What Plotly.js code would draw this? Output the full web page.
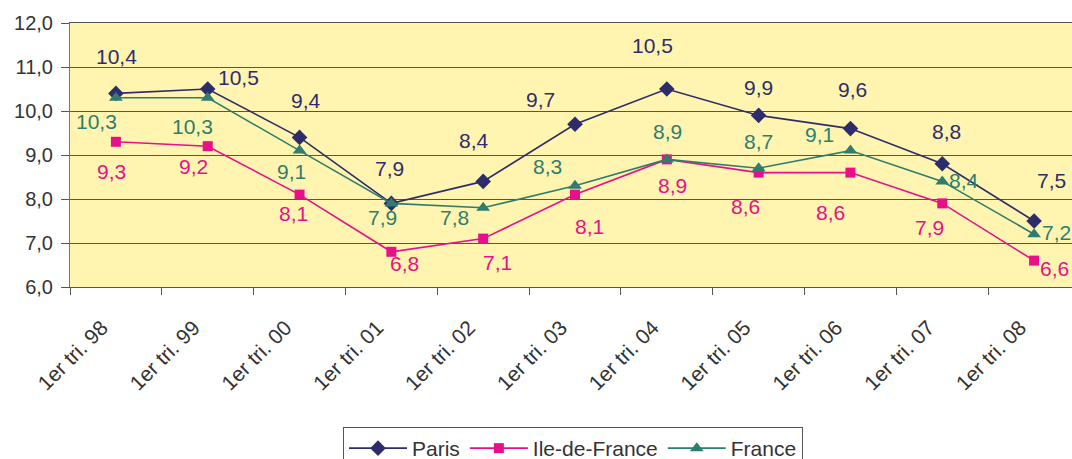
<!DOCTYPE html>
<html><head><meta charset="utf-8">
<script src="https://cdn.plot.ly/plotly-3.0.1.min.js"></script>
<style>html,body{margin:0;padding:0;overflow:hidden;background:#fff;width:1072px;height:459px}#chart{width:1090px;height:459px}</style>
</head><body><div id="chart"></div>
<script>
const categories = ["1er tri. 98","1er tri. 99","1er tri. 00","1er tri. 01","1er tri. 02","1er tri. 03","1er tri. 04","1er tri. 05","1er tri. 06","1er tri. 07","1er tri. 08"];
const paris = [10.4,10.5,9.4,7.9,8.4,9.7,10.5,9.9,9.6,8.8,7.5];
const idf = [9.3,9.2,8.1,6.8,7.1,8.1,8.9,8.6,8.6,7.9,6.6];
const france = [10.3,10.3,9.1,7.9,7.8,8.3,8.9,8.7,9.1,8.4,7.2];

const FONT = "Liberation Sans, Arial, sans-serif";
const series = [
  {name:"Paris", y:paris, color:"#2E2D6B", symbol:"diamond", size:12,
   off:[[1,-37],[31,-12],[6,-37],[-2,-35],[-9,-41],[-35,-25],[-14,-44],[0,-28],[2,-39],[4,-32],[17,-41]]},
  {name:"Ile-de-France", y:idf, color:"#E8108A", symbol:"square", size:10,
   off:[[-4,30],[-14,20],[-6,19],[13,12],[14,24],[14,32],[6,26],[-13,34],[-20,40],[-13,24],[20,8]]},
  {name:"France", y:france, color:"#2F7D6E", symbol:"triangle-up", size:12,
   off:[[-19,24],[-15,29],[-8,21],[-9,14],[-29,10],[-28,-19],[1,-28],[0,-27],[-31,-16],[22,-1],[22,-2]]}
];

const traces = series.map(s => ({
  type:"scatter", mode:"lines+markers", name:s.name, x:categories, y:s.y,
  line:{color:s.color, width:1.6},
  marker:{symbol:s.symbol, size:s.size, color:s.color}
}));

const annotations = [];
series.forEach(s => {
  s.y.forEach((v,i) => {
    annotations.push({x:categories[i], y:v, xref:"x", yref:"y",
      text:v.toFixed(1).replace(".", ","), showarrow:false,
      xshift:s.off[i][0], yshift:-s.off[i][1],
      font:{family:FONT, size:21, color:s.color}});
  });
});

const layout = {
  width:1090, height:459,
  margin:{l:70, r:10, t:23, b:172},
  paper_bgcolor:"#ffffff", plot_bgcolor:"#FFF5B0",
  separators:", ",
  showlegend:true,
  font:{family:FONT, color:"#333333", size:18},
  xaxis:{type:"category", tickson:"boundaries", ticks:"outside", ticklen:7, tickcolor:"#555",
    tickangle:-45, showgrid:false, showline:true, linecolor:"#555", linewidth:1, mirror:true,
    ticklabelstandoff:19, ticklabelshift:-14, automargin:false,
    tickfont:{family:FONT, size:21, color:"#333"}, range:[-0.5,10.5], fixedrange:true},
  yaxis:{range:[6,12], dtick:1, tickformat:".1f", ticks:"outside", ticklen:8, tickcolor:"#555",
    showgrid:true, gridcolor:"#555", gridwidth:1, showline:true, linecolor:"#777", mirror:true,
    ticklabelstandoff:4,
    zeroline:false, automargin:false, tickfont:{family:FONT, size:20, color:"#333"}},
  legend:{orientation:"h", x:573/1090, xref:"container", xanchor:"center", y:1-427/459, yref:"container", yanchor:"top",
    bordercolor:"#555", borderwidth:1, bgcolor:"#fff", itemwidth:58,
    font:{family:FONT, size:21, color:"#333"}},
  annotations:annotations
};
Plotly.newPlot("chart", traces, layout, {staticPlot:true, displayModeBar:false});
</script></body></html>
